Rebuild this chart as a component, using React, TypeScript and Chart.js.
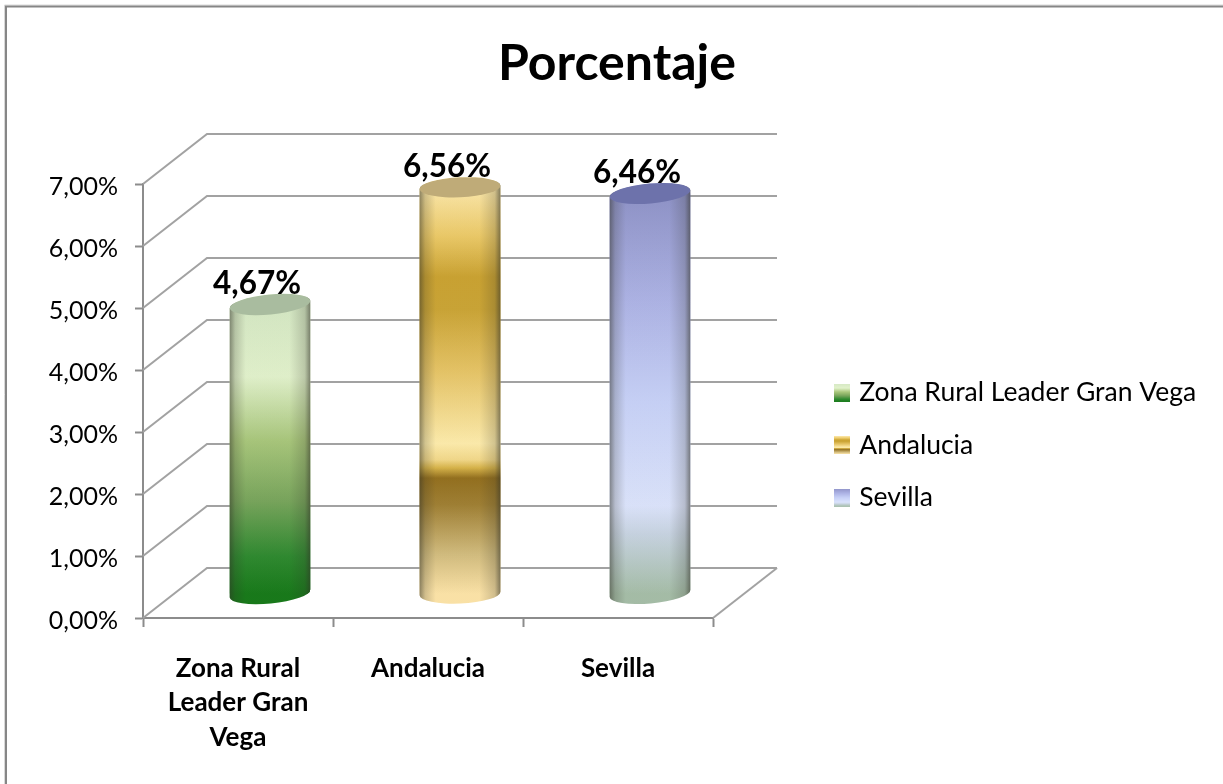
import React, { useEffect, useRef } from "react";
import { Chart, registerables } from "chart.js";

Chart.register(...registerables);

const titleText = "Porcentaje";
const categories = ["Zona Rural Leader Gran Vega", "Andalucia", "Sevilla"];
const categoryLines = [["Zona Rural", "Leader Gran", "Vega"], ["Andalucia"], ["Sevilla"]];
const values = [4.67, 6.56, 6.46];
const axisMax = 7;

const fontFamily = "Lato, Carlito, Calibri, sans-serif";
const lineGrey = "#8c8c8c";
const wallGrey = "#a2a2a2";

// colour bands from the top of each cylinder (0) to its foot (1)
const greenStops: [number, string][] = [[0, "#d5e8c4"], [0.25, "#e2f2cc"], [0.47, "#a9c77c"], [0.68, "#78a55c"], [0.87, "#2f8a30"], [1, "#187a1a"]];
const amberStops: [number, string][] = [[0, "#fde9ac"], [0.12, "#ecca68"], [0.22, "#cba332"], [0.3, "#cba536"], [0.45, "#e6c466"], [0.63, "#feecac"], [0.67, "#f3d98a"], [0.69, "#d8b44a"], [0.715, "#94701f"], [0.78, "#a08034"], [0.9, "#d2bc7e"], [1, "#fde4a8"]];
const blueStops: [number, string][] = [[0, "#8f93c8"], [0.27, "#aeb4e6"], [0.52, "#c8d2f8"], [0.78, "#dce4fc"], [0.85, "#c8d4e2"], [1, "#a6bea8"]];
const barStops = [greenStops, amberStops, blueStops];
const capColours = ["#a9bc9f", "#bfab78", "#6d72ab"];
const tilts = [-5.5, -2.5, -5];

const DEPTH = { dx: 64, dy: -50 };
const BAR_SHIFT = { dx: 32, dy: -24 };
const CAP_RY = 10;
const LABEL_OFFSET = { dx: 19, dy: -44.5 };

const fmt = (v: number) => v.toFixed(2).replace(".", ",") + "%";

function swatch(stops: [number, string][]) {
  const c = document.createElement("canvas");
  c.width = 16;
  c.height = 18;
  const g = c.getContext("2d")!;
  const lg = g.createLinearGradient(0, 0, 0, 18);
  stops.forEach(([o, col]) => lg.addColorStop(o, col));
  g.fillStyle = lg;
  g.fillRect(0, 0, 16, 18);
  return c;
}

function barGradient(chart: any, i: number) {
  const y = chart.scales.y;
  const g = chart.ctx.createLinearGradient(0, y.getPixelForValue(values[i]), 0, y.getPixelForValue(0));
  barStops[i].forEach(([o, col]) => g.addColorStop(o, col));
  return g;
}

function bodyPath(ctx: CanvasRenderingContext2D, x: number, top: number, base: number, rx: number, tilt: number) {
  const a = (tilt * Math.PI) / 180;
  const ex = rx * Math.cos(a);
  const ey = rx * Math.sin(a);
  ctx.moveTo(x + ex, top + ey);
  ctx.ellipse(x, top, rx, CAP_RY, a, 0, Math.PI * 2);
  ctx.moveTo(x - ex, top - ey);
  ctx.lineTo(x + ex, top + ey);
  ctx.lineTo(x + ex, base + ey);
  ctx.lineTo(x - ex, base - ey);
  ctx.closePath();
  ctx.moveTo(x + ex, base + ey);
  ctx.ellipse(x, base, rx, CAP_RY, a, 0, Math.PI * 2);
}

const scenePlugin = {
  id: "scene",
  beforeLayout(chart: any) {
    const legend = chart.legend;
    if (legend && !legend.__patched) {
      const fit = legend.fit.bind(legend);
      legend.fit = () => {
        fit();
        legend.width = 510;
      };
      legend.__patched = true;
    }
  },
  afterLayout(chart: any) {
    const legend = chart.legend;
    const pad = legend.options.labels.padding;
    legend.left = 838 - pad;
    legend.right = 1223;
    legend.top = 337;
    legend.bottom = 553;
  },
  beforeDraw(chart: any) {
    const { ctx, width, height } = chart;
    ctx.save();
    ctx.fillStyle = "#ffffff";
    ctx.fillRect(0, 0, width, height);
    ctx.strokeStyle = "#d8d8d8";
    ctx.lineWidth = 1;
    ctx.beginPath();
    ctx.moveTo(4.5, height);
    ctx.lineTo(4.5, 5);
    ctx.lineTo(width, 5);
    ctx.stroke();
    ctx.strokeStyle = "#868686";
    ctx.lineWidth = 2;
    ctx.beginPath();
    ctx.moveTo(6, height);
    ctx.lineTo(6, 6.5);
    ctx.lineTo(width, 6.5);
    ctx.stroke();
    ctx.restore();
  },
  beforeDatasetsDraw(chart: any) {
    const { ctx, chartArea } = chart;
    const y = chart.scales.y;
    ctx.save();
    ctx.strokeStyle = wallGrey;
    ctx.lineWidth = 2;
    for (const t of y.ticks) {
      const py = y.getPixelForValue(t.value);
      ctx.beginPath();
      ctx.moveTo(chartArea.left, py);
      ctx.lineTo(chartArea.left + DEPTH.dx, py + DEPTH.dy);
      ctx.lineTo(chartArea.right + DEPTH.dx, py + DEPTH.dy);
      ctx.stroke();
    }
    const zero = y.getPixelForValue(0);
    ctx.beginPath();
    ctx.moveTo(chartArea.right, zero);
    ctx.lineTo(chartArea.right + DEPTH.dx, zero + DEPTH.dy);
    ctx.stroke();
    ctx.restore();

    // cylinders: the bars below are drawn by the library inside this shifted, clipped space
    const bars = chart.getDatasetMeta(0).data;
    ctx.save();
    ctx.translate(BAR_SHIFT.dx, BAR_SHIFT.dy);
    ctx.beginPath();
    bars.forEach((b: any, i: number) => bodyPath(ctx, b.x, b.y, b.base, b.width / 2, tilts[i]));
    ctx.clip();
    bars.forEach((b: any, i: number) => {
      ctx.fillStyle = barGradient(chart, i);
      ctx.fillRect(b.x - b.width, b.y - 30, b.width * 2, b.base - b.y + 60);
    });
  },
  afterDatasetsDraw(chart: any) {
    const { ctx } = chart;
    const bars = chart.getDatasetMeta(0).data;
    bars.forEach((b: any, i: number) => {
      const rx = b.width / 2;
      const sh = ctx.createLinearGradient(b.x - rx, 0, b.x + rx, 0);
      sh.addColorStop(0, "rgba(50,50,40,0.55)");
      sh.addColorStop(0.07, "rgba(50,50,40,0.22)");
      sh.addColorStop(0.2, "rgba(50,50,40,0.02)");
      sh.addColorStop(0.74, "rgba(50,50,40,0.02)");
      sh.addColorStop(0.93, "rgba(50,50,40,0.22)");
      sh.addColorStop(1, "rgba(50,50,40,0.6)");
      ctx.fillStyle = sh;
      ctx.fillRect(b.x - rx - 2, b.y - 30, b.width + 4, b.base - b.y + 60);
      ctx.beginPath();
      ctx.ellipse(b.x, b.y, rx, CAP_RY, (tilts[i] * Math.PI) / 180, 0, Math.PI * 2);
      ctx.fillStyle = capColours[i];
      ctx.fill();
    });
    ctx.restore();

    ctx.save();
    ctx.fillStyle = "#000000";
    ctx.font = `bold 31.5px ${fontFamily}`;
    ctx.textAlign = "center";
    ctx.textBaseline = "middle";
    bars.forEach((b: any, i: number) => {
      ctx.fillText(fmt(values[i]), b.x + LABEL_OFFSET.dx, b.y + LABEL_OFFSET.dy);
    });
    ctx.restore();
  },
};

export default function App() {
  const ref = useRef<HTMLCanvasElement>(null);
  useEffect(() => {
    const chart = new Chart(ref.current!, {
      type: "bar",
      data: {
        labels: categories,
        datasets: [
          {
            label: titleText,
            data: values,
            clip: false,
            backgroundColor: (c: any) => (c.chart.chartArea && c.dataIndex !== undefined ? barGradient(c.chart, c.dataIndex) : "#cccccc"),
            borderWidth: 0,
            barPercentage: 0.426,
            categoryPercentage: 1,
          } as any,
        ],
      },
      options: {
        responsive: false,
        animation: false,
        layout: { padding: { left: 11, right: 0, top: 0, bottom: 0 } },
        plugins: {
          tooltip: { enabled: false },
          title: {
            display: true,
            text: titleText,
            color: "#000000",
            font: { family: fontFamily, size: 50, weight: "bold", lineHeight: 1.2 },
            padding: { top: 34, bottom: 90 },
          },
          legend: {
            display: true,
            position: "right",
            labels: {
              usePointStyle: true,
              boxWidth: 8,
              boxHeight: 8,
              padding: 26,
              color: "#000000",
              font: { family: fontFamily, size: 26.5, lineHeight: 1.2 },
              generateLabels: () =>
                categories.map((text, i) => ({
                  text,
                  pointStyle: swatch(barStops[i]),
                  fillStyle: capColours[i],
                  lineWidth: 0,
                  strokeStyle: "transparent",
                  hidden: false,
                  index: i,
                })) as any,
            },
          },
        },
        scales: {
          x: {
            grid: { drawOnChartArea: false, drawTicks: true, tickLength: 9, tickColor: lineGrey, tickWidth: 2 },
            border: { color: lineGrey, width: 2 },
            afterFit: (s: any) => {
              s.height = 166;
            },
            ticks: {
              color: "#000000",
              maxRotation: 0,
              padding: 24,
              font: { family: fontFamily, size: 26, weight: "bold", lineHeight: "34.5px" },
              callback: (_v: any, i: number) => categoryLines[i],
            },
          },
          y: {
            min: 0,
            max: axisMax,
            grid: { drawOnChartArea: false, drawTicks: true, tickLength: 8, tickColor: lineGrey, tickWidth: 2 },
            border: { color: lineGrey, width: 2 },
            afterFit: (s: any) => {
              s.width = 132;
            },
            ticks: {
              stepSize: 1,
              color: "#000000",
              padding: 17,
              font: { family: fontFamily, size: 25, lineHeight: "5px" },
              callback: (v: any) => ["", fmt(Number(v))],
            },
          },
        },
      },
      plugins: [scenePlugin as any],
    });
    return () => chart.destroy();
  }, []);
  return (
    <div style={{ position: "absolute", left: 0, top: 0, width: 1223, height: 784, background: "#fff" }}>
      <canvas ref={ref} width={1223} height={784} style={{ display: "block" }} />
    </div>
  );
}
